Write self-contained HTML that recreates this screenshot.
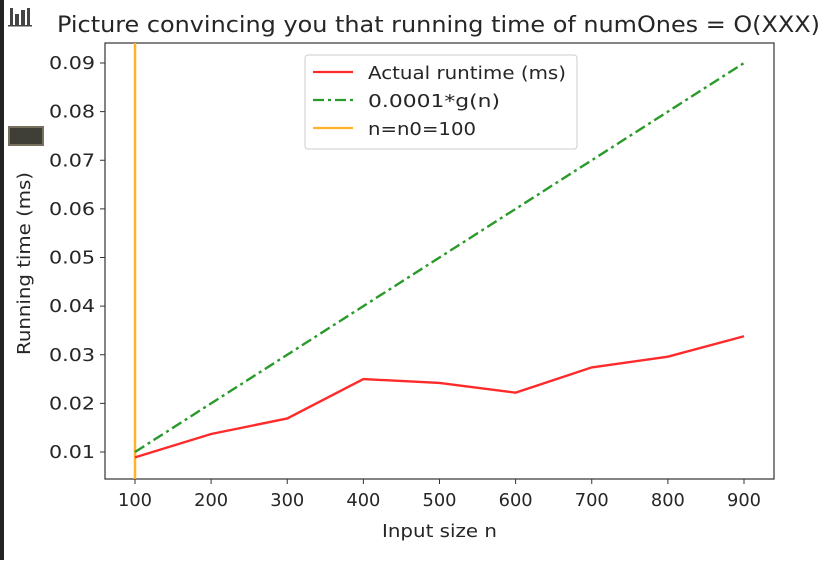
<!DOCTYPE html>
<html><head><meta charset="utf-8"><style>
body{margin:0;background:#fff;width:832px;height:560px;overflow:hidden;font-family:"DejaVu Sans","Liberation Sans",sans-serif}
text{font-family:"DejaVu Sans","Liberation Sans",sans-serif;fill:#262626}
</style></head><body>
<svg id="chart" width="832" height="560" viewBox="0 0 832 560">
<rect x="0" y="0" width="4" height="560" fill="#222"/>
<g fill="#444">
<rect x="10" y="8" width="3" height="17"/><rect x="15" y="14" width="4" height="11"/><rect x="21" y="10" width="4" height="15"/><rect x="27" y="8" width="3" height="17"/><rect x="8" y="25" width="24" height="1.5"/>
</g>
<rect x="9" y="127" width="34" height="18" fill="#3f3f38" stroke="#77705f" stroke-width="2"/>
<text x="57" y="32" font-size="22" textLength="763" lengthAdjust="spacingAndGlyphs">Picture convincing you that running time of numOnes = O(XXX)</text>
<g id="plot"></g>
<text x="382" y="537" font-size="18" textLength="115" lengthAdjust="spacingAndGlyphs">Input size n</text>
<text transform="translate(30,355) rotate(-90)" font-size="18" textLength="183" lengthAdjust="spacingAndGlyphs">Running time (ms)</text>
<g>
<rect x="305" y="55" width="272" height="94" rx="3" fill="#fff" stroke="#ccc"/>
<line x1="313" y1="72" x2="353" y2="72" stroke="#ff2a2a" stroke-width="2.2"/>
<text x="368" y="79" font-size="18" textLength="198" lengthAdjust="spacingAndGlyphs">Actual runtime (ms)</text>
<line x1="313" y1="100" x2="353" y2="100" stroke="#2a9a2a" stroke-width="2.2" stroke-dasharray="11,4,3,4"/>
<text x="368" y="107" font-size="18" textLength="132" lengthAdjust="spacingAndGlyphs">0.0001*g(n)</text>
<line x1="313" y1="128" x2="353" y2="128" stroke="#ffb22a" stroke-width="2.2"/>
<text x="368" y="135" font-size="18" textLength="108" lengthAdjust="spacingAndGlyphs">n=n0=100</text>
</g>
</svg>
<script>
const xs=[100,200,300,400,500,600,700,800,900];
const actual=[0.0089,0.0137,0.0169,0.0250,0.0242,0.0222,0.0274,0.0296,0.0338];
const gScaled=[0.01,0.02,0.03,0.04,0.05,0.06,0.07,0.08,0.09];
const n0=100;
const yTicks=[0.01,0.02,0.03,0.04,0.05,0.06,0.07,0.08,0.09];
const xTicks=[100,200,300,400,500,600,700,800,900];
const L=105,R=774,T=43,B=479;
const X=v=>135+(v-100)*(744-135)/800;
const Y=v=>452-(v-0.01)*(452-63)/0.08;
const ns='http://www.w3.org/2000/svg';
const g=document.getElementById('plot');
function mk(t,a){const e=document.createElementNS(ns,t);for(const k in a)e.setAttribute(k,a[k]);g.appendChild(e);return e;}
const frame=mk('rect',{x:L,y:T,width:R-L,height:B-T,fill:'none',stroke:'#333','stroke-width':1.2});


xTicks.forEach(v=>{
 const l=mk('line',{x1:X(v),x2:X(v),y1:B,y2:B+5,stroke:'#333'});
 
 
 const t=mk('text',{x:X(v),y:B+27,'font-size':18,'text-anchor':'middle',textLength:34,lengthAdjust:'spacingAndGlyphs'});t.textContent=v;
 
 
});
yTicks.forEach(v=>{
 const l=mk('line',{x1:L-5,x2:L,y1:Y(v),y2:Y(v),stroke:'#333'});
 
 
 const t=mk('text',{x:L-10,y:Y(v)+6,'font-size':18,'text-anchor':'end',textLength:46,lengthAdjust:'spacingAndGlyphs'});t.textContent=v.toFixed(2);
 
 
});
const vl=mk('line',{x1:X(n0),x2:X(n0),y1:T,y2:B,stroke:'#ffb22a','stroke-width':2.5});


const gl=mk('polyline',{points:xs.map((x,i)=>X(x)+','+Y(gScaled[i])).join(' '),fill:'none',stroke:'#2a9a2a','stroke-width':2.4,'stroke-dasharray':'11,4,3,4'});


const al=mk('polyline',{points:xs.map((x,i)=>X(x)+','+Y(actual[i])).join(' '),fill:'none',stroke:'#ff2a2a','stroke-width':2.4});


</script>
</body></html>
